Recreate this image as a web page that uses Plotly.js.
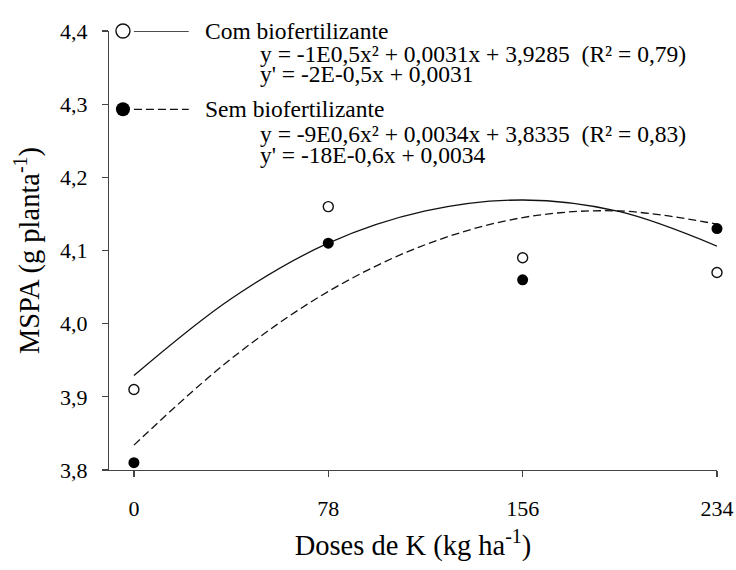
<!DOCTYPE html>
<html>
<head>
<meta charset="utf-8">
<script src="https://cdn.plot.ly/plotly-3.0.1.min.js"></script>
<style>html,body{margin:0;padding:0;background:#fff;}#chart{width:736px;height:570px;}</style>
</head>
<body>
<div id="chart"></div>
<script>
// Observed data
var doses = [0, 78, 156, 234];
var comObs = [3.91, 4.16, 4.09, 4.07];
var semObs = [3.81, 4.11, 4.06, 4.13];
// Fitted curves
var fitX = [0, 39, 78, 117, 156, 195, 234];
var comFit = [3.929, 4.034, 4.110, 4.154, 4.169, 4.153, 4.106];
var semFit = [3.834, 3.952, 4.044, 4.108, 4.145, 4.154, 4.136];
// Legend keys
var keyMarkX = [-4.4];
var keyLineX = [0, 22];
var comKeyY = [4.4];
var semKeyY = [4.293];
var xTicks = [0, 78, 156, 234];
var xTickText = ['0', '78', '156', '234'];
var comLabel = 'Com biofertilizante';
var comEq1 = 'y = -1E0,5x² + 0,0031x + 3,9285  (R² = 0,79)';
var comEq2 = "y' = -2E-0,5x + 0,0031";
var semLabel = 'Sem biofertilizante';
var semEq1 = 'y = -9E0,6x² + 0,0034x + 3,8335  (R² = 0,83)';
var semEq2 = "y' = -18E-0,6x + 0,0034";

var FONT = '"Liberation Serif", "Times New Roman", serif';
var traces = [
  {x: fitX, y: comFit, mode: 'lines', line: {color: '#111', width: 1.3, shape: 'spline'}, cliponaxis: false, showlegend: false},
  {x: fitX, y: semFit, mode: 'lines', line: {color: '#111', width: 1.3, shape: 'spline', dash: '8px,4px'}, cliponaxis: false, showlegend: false},
  {x: doses, y: comObs, mode: 'markers', marker: {symbol: 'circle-open', size: 10, color: '#111', line: {width: 1.4, color: '#111'}}, cliponaxis: false, showlegend: false},
  {x: doses, y: semObs, mode: 'markers', marker: {symbol: 'circle', size: 11, color: '#000'}, cliponaxis: false, showlegend: false},
  // legend keys
  {x: keyLineX, y: [comKeyY[0], comKeyY[0]], mode: 'lines', line: {color: '#111', width: 1.3}, cliponaxis: false, showlegend: false},
  {x: keyLineX, y: [semKeyY[0], semKeyY[0]], mode: 'lines', line: {color: '#111', width: 1.3, dash: '8px,4px'}, cliponaxis: false, showlegend: false},
  {x: keyMarkX, y: comKeyY, mode: 'markers', marker: {symbol: 'circle-open', size: 14, color: '#111', line: {width: 1.4, color: '#111'}}, cliponaxis: false, showlegend: false},
  {x: keyMarkX, y: semKeyY, mode: 'markers', marker: {symbol: 'circle', size: 14, color: '#000'}, cliponaxis: false, showlegend: false}
];

function ann(text, x, y, size) {
  return {text: text, x: x, y: y, xref: 'x', yref: 'y', xanchor: 'left', yanchor: 'middle', showarrow: false,
          font: {family: FONT, size: size, color: '#000'}};
}
var annotations = [
  ann(comLabel, 27.7, 4.4, 23.5),
  ann(comEq1, 49.8, 4.369, 23.5),
  ann(comEq2, 49.8, 4.341, 23.5),
  ann(semLabel, 27.7, 4.293, 23.5),
  ann(semEq1, 49.8, 4.259, 23.5),
  ann(semEq2, 49.8, 4.231, 23.5)
];

var layout = {
  width: 736, height: 570,
  margin: {l: 109, r: 19, t: 31, b: 100},
  paper_bgcolor: '#fff', plot_bgcolor: '#fff',
  separators: ', ',
  font: {family: FONT, color: '#000'},
  showlegend: false,
  xaxis: {
    range: [-10, 234], tickvals: xTicks, ticktext: xTickText,
    showline: true, linecolor: '#444', linewidth: 1.2, mirror: false,
    ticks: 'outside', ticklen: 6, tickwidth: 1.2, tickcolor: '#444',
    showgrid: false, zeroline: false,
    tickfont: {family: FONT, size: 22, color: '#000'},
    ticklabelstandoff: 12,
    title: {text: 'Doses de K (kg ha<sup>-1</sup>)', font: {family: FONT, size: 28.5, color: '#000'}, standoff: 15},
    automargin: false
  },
  yaxis: {
    range: [3.8, 4.4], dtick: 0.1, tick0: 3.8, tickformat: '.1f',
    showline: true, linecolor: '#444', linewidth: 1.2,
    ticks: 'outside', ticklen: 6, tickwidth: 1.2, tickcolor: '#444',
    showgrid: false, zeroline: false,
    tickfont: {family: FONT, size: 22, color: '#000'},
    ticklabelstandoff: 10,
    title: {text: 'MSPA (g planta<sup>-1</sup>)', font: {family: FONT, size: 28.5, color: '#000'}, standoff: 12},
    automargin: false
  },
  annotations: annotations
};

Plotly.newPlot('chart', traces, layout, {staticPlot: true, displayModeBar: false});
</script>
</body>
</html>
